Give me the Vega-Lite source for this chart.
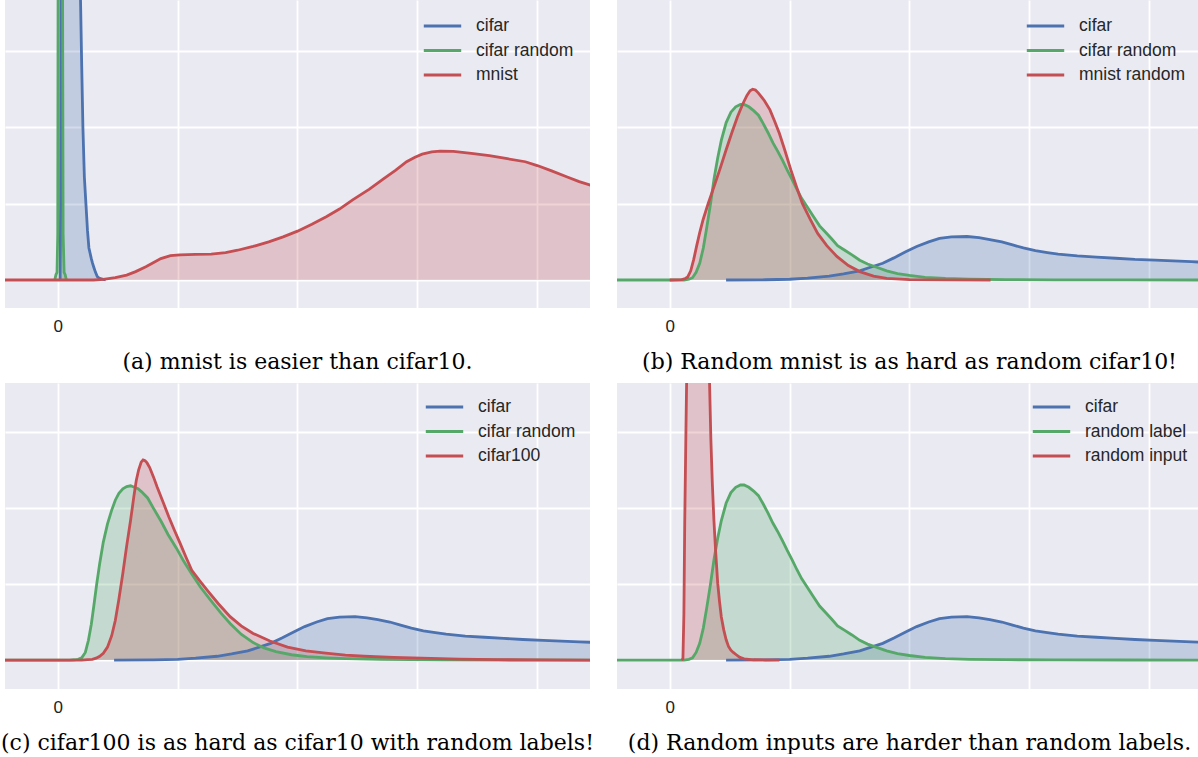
{
  "$schema": "https://vega.github.io/schema/vega-lite/v6.json",
  "padding": {"left": 1, "top": 0, "right": 0, "bottom": 0},
  "background": "white",
  "columns": 2,
  "spacing": {"row": 75, "column": 27},
  "bounds": "flush",
  "resolve": {"scale": {"x": "independent", "y": "independent", "color": "independent"}, "legend": {"color": "independent"}},
  "config": {
    "view": {"fill": "#EAEAF2", "stroke": null},
    "axis": {"grid": true, "gridColor": "white", "gridWidth": 1.8, "domain": false, "ticks": false, "title": null, "labelFont": "Liberation Sans", "labelFontSize": 17, "labelColor": "#222222", "labelPadding": 10},
    "legend": {"orient": "top-right", "offset": 14, "padding": 0, "symbolType": "stroke", "symbolSize": 1400, "symbolStrokeWidth": 3, "labelFont": "Liberation Sans", "labelFontSize": 17.5, "labelColor": "#262626", "labelOffset": 13, "clipHeight": 20, "rowPadding": 4.5, "labelLimit": 300},
    "title": {"font": "DejaVu Serif", "fontSize": 22, "fontWeight": "normal", "color": "#000000", "orient": "bottom", "anchor": "middle", "offset": 18}
  },
  "datasets": {
    "rows": [
      {"p":"a","s":"cifar","x":0.02,"y":0},{"p":"a","s":"cifar","x":0.024,"y":1},{"p":"a","s":"cifar","x":0.027,"y":4},{"p":"a","s":"cifar","x":0.03,"y":10},{"p":"a","s":"cifar","x":0.17,"y":10},{"p":"a","s":"cifar","x":0.182,"y":5},{"p":"a","s":"cifar","x":0.19,"y":3.67},{"p":"a","s":"cifar","x":0.2,"y":2.8},{"p":"a","s":"cifar","x":0.21,"y":2.0},{"p":"a","s":"cifar","x":0.222,"y":1.35},{"p":"a","s":"cifar","x":0.235,"y":1.0},{"p":"a","s":"cifar","x":0.248,"y":0.65},{"p":"a","s":"cifar","x":0.26,"y":0.42},{"p":"a","s":"cifar","x":0.27,"y":0.35},{"p":"a","s":"cifar","x":0.28,"y":0.28},{"p":"a","s":"cifar","x":0.29,"y":0.22},{"p":"a","s":"cifar","x":0.3,"y":0.17},{"p":"a","s":"cifar","x":0.315,"y":0.1},{"p":"a","s":"cifar","x":0.33,"y":0.045},{"p":"a","s":"cifar","x":0.35,"y":0.02},{"p":"a","s":"cifar","x":0.38,"y":0.008},{"p":"a","s":"cifar","x":0.4,"y":0},
      {"p":"a","s":"cifar random","x":-0.025,"y":0},{"p":"a","s":"cifar random","x":-0.015,"y":0.07},{"p":"a","s":"cifar random","x":-0.006,"y":0.1},{"p":"a","s":"cifar random","x":0.0,"y":0.6},{"p":"a","s":"cifar random","x":0.003,"y":4},{"p":"a","s":"cifar random","x":0.006,"y":10},{"p":"a","s":"cifar random","x":0.036,"y":10},{"p":"a","s":"cifar random","x":0.04,"y":4},{"p":"a","s":"cifar random","x":0.045,"y":0.6},{"p":"a","s":"cifar random","x":0.053,"y":0.1},{"p":"a","s":"cifar random","x":0.062,"y":0.07},{"p":"a","s":"cifar random","x":0.072,"y":0},
      {"p":"a","s":"mnist","x":-0.44,"y":0},{"p":"a","s":"mnist","x":0.0,"y":0},{"p":"a","s":"mnist","x":0.3,"y":0},{"p":"a","s":"mnist","x":0.38,"y":0.008},{"p":"a","s":"mnist","x":0.48,"y":0.03},{"p":"a","s":"mnist","x":0.575,"y":0.065},{"p":"a","s":"mnist","x":0.65,"y":0.11},{"p":"a","s":"mnist","x":0.735,"y":0.175},{"p":"a","s":"mnist","x":0.8,"y":0.23},{"p":"a","s":"mnist","x":0.86,"y":0.28},{"p":"a","s":"mnist","x":0.94,"y":0.32},{"p":"a","s":"mnist","x":1.02,"y":0.33},{"p":"a","s":"mnist","x":1.15,"y":0.335},{"p":"a","s":"mnist","x":1.28,"y":0.34},{"p":"a","s":"mnist","x":1.4,"y":0.36},{"p":"a","s":"mnist","x":1.5,"y":0.39},{"p":"a","s":"mnist","x":1.63,"y":0.44},{"p":"a","s":"mnist","x":1.76,"y":0.5},{"p":"a","s":"mnist","x":1.88,"y":0.565},{"p":"a","s":"mnist","x":2.0,"y":0.64},{"p":"a","s":"mnist","x":2.12,"y":0.73},{"p":"a","s":"mnist","x":2.24,"y":0.83},{"p":"a","s":"mnist","x":2.35,"y":0.93},{"p":"a","s":"mnist","x":2.46,"y":1.05},{"p":"a","s":"mnist","x":2.6,"y":1.19},{"p":"a","s":"mnist","x":2.72,"y":1.33},{"p":"a","s":"mnist","x":2.82,"y":1.44},{"p":"a","s":"mnist","x":2.91,"y":1.55},{"p":"a","s":"mnist","x":2.98,"y":1.61},{"p":"a","s":"mnist","x":3.04,"y":1.65},{"p":"a","s":"mnist","x":3.12,"y":1.68},{"p":"a","s":"mnist","x":3.19,"y":1.69},{"p":"a","s":"mnist","x":3.3,"y":1.685},{"p":"a","s":"mnist","x":3.45,"y":1.66},{"p":"a","s":"mnist","x":3.6,"y":1.63},{"p":"a","s":"mnist","x":3.75,"y":1.59},{"p":"a","s":"mnist","x":3.9,"y":1.55},{"p":"a","s":"mnist","x":4.0,"y":1.5},{"p":"a","s":"mnist","x":4.12,"y":1.43},{"p":"a","s":"mnist","x":4.25,"y":1.35},{"p":"a","s":"mnist","x":4.35,"y":1.29},{"p":"a","s":"mnist","x":4.45,"y":1.24},

      {"p":"bcd","s":"cifar","x":0.47,"y":0},{"p":"bcd","s":"cifar","x":0.8,"y":0.003},{"p":"bcd","s":"cifar","x":1.0,"y":0.01},{"p":"bcd","s":"cifar","x":1.15,"y":0.025},{"p":"bcd","s":"cifar","x":1.33,"y":0.05},{"p":"bcd","s":"cifar","x":1.45,"y":0.08},{"p":"bcd","s":"cifar","x":1.585,"y":0.12},{"p":"bcd","s":"cifar","x":1.68,"y":0.17},{"p":"bcd","s":"cifar","x":1.777,"y":0.22},{"p":"bcd","s":"cifar","x":1.87,"y":0.29},{"p":"bcd","s":"cifar","x":1.968,"y":0.37},{"p":"bcd","s":"cifar","x":2.06,"y":0.44},{"p":"bcd","s":"cifar","x":2.16,"y":0.5},{"p":"bcd","s":"cifar","x":2.25,"y":0.545},{"p":"bcd","s":"cifar","x":2.35,"y":0.565},{"p":"bcd","s":"cifar","x":2.48,"y":0.57},{"p":"bcd","s":"cifar","x":2.58,"y":0.555},{"p":"bcd","s":"cifar","x":2.67,"y":0.53},{"p":"bcd","s":"cifar","x":2.77,"y":0.5},{"p":"bcd","s":"cifar","x":2.86,"y":0.46},{"p":"bcd","s":"cifar","x":2.95,"y":0.42},{"p":"bcd","s":"cifar","x":3.05,"y":0.385},{"p":"bcd","s":"cifar","x":3.15,"y":0.36},{"p":"bcd","s":"cifar","x":3.24,"y":0.34},{"p":"bcd","s":"cifar","x":3.4,"y":0.315},{"p":"bcd","s":"cifar","x":3.56,"y":0.3},{"p":"bcd","s":"cifar","x":3.72,"y":0.285},{"p":"bcd","s":"cifar","x":3.88,"y":0.27},{"p":"bcd","s":"cifar","x":4.05,"y":0.26},{"p":"bcd","s":"cifar","x":4.2,"y":0.25},{"p":"bcd","s":"cifar","x":4.35,"y":0.24},{"p":"bcd","s":"cifar","x":4.5,"y":0.23},

      {"p":"b","s":"cifar random","x":-0.44,"y":0},{"p":"b","s":"cifar random","x":0.0,"y":0},{"p":"b","s":"cifar random","x":0.12,"y":0},{"p":"b","s":"cifar random","x":0.16,"y":0.01},{"p":"b","s":"cifar random","x":0.19,"y":0.03},{"p":"b","s":"cifar random","x":0.22,"y":0.1},{"p":"b","s":"cifar random","x":0.25,"y":0.22},{"p":"b","s":"cifar random","x":0.28,"y":0.42},{"p":"b","s":"cifar random","x":0.31,"y":0.7},{"p":"b","s":"cifar random","x":0.34,"y":1.0},{"p":"b","s":"cifar random","x":0.37,"y":1.33},{"p":"b","s":"cifar random","x":0.4,"y":1.6},{"p":"b","s":"cifar random","x":0.43,"y":1.83},{"p":"b","s":"cifar random","x":0.47,"y":2.06},{"p":"b","s":"cifar random","x":0.51,"y":2.2},{"p":"b","s":"cifar random","x":0.55,"y":2.27},{"p":"b","s":"cifar random","x":0.59,"y":2.3},{"p":"b","s":"cifar random","x":0.62,"y":2.3},{"p":"b","s":"cifar random","x":0.66,"y":2.27},{"p":"b","s":"cifar random","x":0.7,"y":2.22},{"p":"b","s":"cifar random","x":0.74,"y":2.16},{"p":"b","s":"cifar random","x":0.78,"y":2.05},{"p":"b","s":"cifar random","x":0.82,"y":1.93},{"p":"b","s":"cifar random","x":0.86,"y":1.8},{"p":"b","s":"cifar random","x":0.9,"y":1.69},{"p":"b","s":"cifar random","x":0.94,"y":1.57},{"p":"b","s":"cifar random","x":0.98,"y":1.44},{"p":"b","s":"cifar random","x":1.02,"y":1.32},{"p":"b","s":"cifar random","x":1.06,"y":1.19},{"p":"b","s":"cifar random","x":1.1,"y":1.07},{"p":"b","s":"cifar random","x":1.15,"y":0.95},{"p":"b","s":"cifar random","x":1.2,"y":0.83},{"p":"b","s":"cifar random","x":1.25,"y":0.71},{"p":"b","s":"cifar random","x":1.3,"y":0.625},{"p":"b","s":"cifar random","x":1.35,"y":0.54},{"p":"b","s":"cifar random","x":1.4,"y":0.45},{"p":"b","s":"cifar random","x":1.46,"y":0.39},{"p":"b","s":"cifar random","x":1.52,"y":0.33},{"p":"b","s":"cifar random","x":1.585,"y":0.26},{"p":"b","s":"cifar random","x":1.65,"y":0.21},{"p":"b","s":"cifar random","x":1.72,"y":0.17},{"p":"b","s":"cifar random","x":1.81,"y":0.12},{"p":"b","s":"cifar random","x":1.9,"y":0.085},{"p":"b","s":"cifar random","x":2.0,"y":0.06},{"p":"b","s":"cifar random","x":2.13,"y":0.035},{"p":"b","s":"cifar random","x":2.3,"y":0.02},{"p":"b","s":"cifar random","x":2.5,"y":0.01},{"p":"b","s":"cifar random","x":2.8,"y":0.005},{"p":"b","s":"cifar random","x":3.2,"y":0.002},{"p":"b","s":"cifar random","x":3.8,"y":0.001},{"p":"b","s":"cifar random","x":4.5,"y":0},

      {"p":"b","s":"mnist random","x":0.0,"y":0},{"p":"b","s":"mnist random","x":0.1,"y":0.005},{"p":"b","s":"mnist random","x":0.13,"y":0.02},{"p":"b","s":"mnist random","x":0.15,"y":0.04},{"p":"b","s":"mnist random","x":0.175,"y":0.12},{"p":"b","s":"mnist random","x":0.2,"y":0.27},{"p":"b","s":"mnist random","x":0.225,"y":0.45},{"p":"b","s":"mnist random","x":0.25,"y":0.62},{"p":"b","s":"mnist random","x":0.278,"y":0.79},{"p":"b","s":"mnist random","x":0.32,"y":1.0},{"p":"b","s":"mnist random","x":0.373,"y":1.24},{"p":"b","s":"mnist random","x":0.42,"y":1.46},{"p":"b","s":"mnist random","x":0.469,"y":1.7},{"p":"b","s":"mnist random","x":0.52,"y":1.94},{"p":"b","s":"mnist random","x":0.565,"y":2.14},{"p":"b","s":"mnist random","x":0.61,"y":2.31},{"p":"b","s":"mnist random","x":0.644,"y":2.42},{"p":"b","s":"mnist random","x":0.67,"y":2.48},{"p":"b","s":"mnist random","x":0.692,"y":2.5},{"p":"b","s":"mnist random","x":0.715,"y":2.49},{"p":"b","s":"mnist random","x":0.74,"y":2.45},{"p":"b","s":"mnist random","x":0.79,"y":2.35},{"p":"b","s":"mnist random","x":0.836,"y":2.23},{"p":"b","s":"mnist random","x":0.875,"y":2.08},{"p":"b","s":"mnist random","x":0.915,"y":1.92},{"p":"b","s":"mnist random","x":0.96,"y":1.7},{"p":"b","s":"mnist random","x":1.011,"y":1.44},{"p":"b","s":"mnist random","x":1.06,"y":1.21},{"p":"b","s":"mnist random","x":1.107,"y":1.0},{"p":"b","s":"mnist random","x":1.17,"y":0.8},{"p":"b","s":"mnist random","x":1.234,"y":0.61},{"p":"b","s":"mnist random","x":1.31,"y":0.45},{"p":"b","s":"mnist random","x":1.394,"y":0.31},{"p":"b","s":"mnist random","x":1.49,"y":0.19},{"p":"b","s":"mnist random","x":1.585,"y":0.11},{"p":"b","s":"mnist random","x":1.7,"y":0.05},{"p":"b","s":"mnist random","x":1.81,"y":0.02},{"p":"b","s":"mnist random","x":2.0,"y":0.006},{"p":"b","s":"mnist random","x":2.3,"y":0.002},{"p":"b","s":"mnist random","x":2.676,"y":0},

      {"p":"c","s":"cifar random","x":-0.44,"y":0},{"p":"c","s":"cifar random","x":0.1,"y":0},{"p":"c","s":"cifar random","x":0.14,"y":0.004},{"p":"c","s":"cifar random","x":0.17,"y":0.01},{"p":"c","s":"cifar random","x":0.2,"y":0.03},{"p":"c","s":"cifar random","x":0.23,"y":0.1},{"p":"c","s":"cifar random","x":0.256,"y":0.26},{"p":"c","s":"cifar random","x":0.28,"y":0.47},{"p":"c","s":"cifar random","x":0.3,"y":0.7},{"p":"c","s":"cifar random","x":0.325,"y":1.0},{"p":"c","s":"cifar random","x":0.35,"y":1.27},{"p":"c","s":"cifar random","x":0.38,"y":1.55},{"p":"c","s":"cifar random","x":0.415,"y":1.79},{"p":"c","s":"cifar random","x":0.45,"y":1.97},{"p":"c","s":"cifar random","x":0.48,"y":2.1},{"p":"c","s":"cifar random","x":0.51,"y":2.19},{"p":"c","s":"cifar random","x":0.543,"y":2.25},{"p":"c","s":"cifar random","x":0.575,"y":2.28},{"p":"c","s":"cifar random","x":0.607,"y":2.29},{"p":"c","s":"cifar random","x":0.64,"y":2.27},{"p":"c","s":"cifar random","x":0.67,"y":2.25},{"p":"c","s":"cifar random","x":0.7,"y":2.21},{"p":"c","s":"cifar random","x":0.75,"y":2.13},{"p":"c","s":"cifar random","x":0.8,"y":1.99},{"p":"c","s":"cifar random","x":0.863,"y":1.82},{"p":"c","s":"cifar random","x":0.92,"y":1.65},{"p":"c","s":"cifar random","x":0.99,"y":1.47},{"p":"c","s":"cifar random","x":1.05,"y":1.3},{"p":"c","s":"cifar random","x":1.118,"y":1.13},{"p":"c","s":"cifar random","x":1.19,"y":0.96},{"p":"c","s":"cifar random","x":1.278,"y":0.78},{"p":"c","s":"cifar random","x":1.36,"y":0.62},{"p":"c","s":"cifar random","x":1.438,"y":0.48},{"p":"c","s":"cifar random","x":1.53,"y":0.34},{"p":"c","s":"cifar random","x":1.63,"y":0.23},{"p":"c","s":"cifar random","x":1.72,"y":0.16},{"p":"c","s":"cifar random","x":1.82,"y":0.11},{"p":"c","s":"cifar random","x":1.95,"y":0.07},{"p":"c","s":"cifar random","x":2.08,"y":0.045},{"p":"c","s":"cifar random","x":2.24,"y":0.03},{"p":"c","s":"cifar random","x":2.4,"y":0.02},{"p":"c","s":"cifar random","x":2.7,"y":0.01},{"p":"c","s":"cifar random","x":3.2,"y":0.004},{"p":"c","s":"cifar random","x":3.8,"y":0.001},{"p":"c","s":"cifar random","x":4.5,"y":0},

      {"p":"c","s":"cifar100","x":-0.44,"y":0},{"p":"c","s":"cifar100","x":0.2,"y":0},{"p":"c","s":"cifar100","x":0.25,"y":0.005},{"p":"c","s":"cifar100","x":0.288,"y":0.01},{"p":"c","s":"cifar100","x":0.32,"y":0.025},{"p":"c","s":"cifar100","x":0.35,"y":0.05},{"p":"c","s":"cifar100","x":0.38,"y":0.09},{"p":"c","s":"cifar100","x":0.415,"y":0.17},{"p":"c","s":"cifar100","x":0.45,"y":0.32},{"p":"c","s":"cifar100","x":0.48,"y":0.52},{"p":"c","s":"cifar100","x":0.51,"y":0.8},{"p":"c","s":"cifar100","x":0.543,"y":1.14},{"p":"c","s":"cifar100","x":0.575,"y":1.5},{"p":"c","s":"cifar100","x":0.607,"y":1.83},{"p":"c","s":"cifar100","x":0.635,"y":2.15},{"p":"c","s":"cifar100","x":0.655,"y":2.36},{"p":"c","s":"cifar100","x":0.675,"y":2.5},{"p":"c","s":"cifar100","x":0.696,"y":2.6},{"p":"c","s":"cifar100","x":0.712,"y":2.63},{"p":"c","s":"cifar100","x":0.728,"y":2.62},{"p":"c","s":"cifar100","x":0.745,"y":2.59},{"p":"c","s":"cifar100","x":0.767,"y":2.53},{"p":"c","s":"cifar100","x":0.8,"y":2.4},{"p":"c","s":"cifar100","x":0.83,"y":2.27},{"p":"c","s":"cifar100","x":0.88,"y":2.07},{"p":"c","s":"cifar100","x":0.927,"y":1.88},{"p":"c","s":"cifar100","x":0.975,"y":1.7},{"p":"c","s":"cifar100","x":1.022,"y":1.53},{"p":"c","s":"cifar100","x":1.07,"y":1.35},{"p":"c","s":"cifar100","x":1.118,"y":1.18},{"p":"c","s":"cifar100","x":1.18,"y":1.05},{"p":"c","s":"cifar100","x":1.246,"y":0.92},{"p":"c","s":"cifar100","x":1.34,"y":0.74},{"p":"c","s":"cifar100","x":1.438,"y":0.57},{"p":"c","s":"cifar100","x":1.53,"y":0.45},{"p":"c","s":"cifar100","x":1.63,"y":0.35},{"p":"c","s":"cifar100","x":1.77,"y":0.25},{"p":"c","s":"cifar100","x":1.917,"y":0.17},{"p":"c","s":"cifar100","x":2.07,"y":0.12},{"p":"c","s":"cifar100","x":2.236,"y":0.09},{"p":"c","s":"cifar100","x":2.4,"y":0.065},{"p":"c","s":"cifar100","x":2.556,"y":0.05},{"p":"c","s":"cifar100","x":2.8,"y":0.035},{"p":"c","s":"cifar100","x":3.035,"y":0.025},{"p":"c","s":"cifar100","x":3.35,"y":0.012},{"p":"c","s":"cifar100","x":3.67,"y":0.005},{"p":"c","s":"cifar100","x":4.0,"y":0.002},{"p":"c","s":"cifar100","x":4.5,"y":0},

      {"p":"d","s":"random label","x":-0.44,"y":0},{"p":"d","s":"random label","x":0.0,"y":0},{"p":"d","s":"random label","x":0.12,"y":0},{"p":"d","s":"random label","x":0.16,"y":0.01},{"p":"d","s":"random label","x":0.19,"y":0.03},{"p":"d","s":"random label","x":0.22,"y":0.1},{"p":"d","s":"random label","x":0.25,"y":0.22},{"p":"d","s":"random label","x":0.28,"y":0.42},{"p":"d","s":"random label","x":0.31,"y":0.7},{"p":"d","s":"random label","x":0.34,"y":1.0},{"p":"d","s":"random label","x":0.37,"y":1.33},{"p":"d","s":"random label","x":0.4,"y":1.6},{"p":"d","s":"random label","x":0.43,"y":1.83},{"p":"d","s":"random label","x":0.47,"y":2.06},{"p":"d","s":"random label","x":0.51,"y":2.2},{"p":"d","s":"random label","x":0.55,"y":2.27},{"p":"d","s":"random label","x":0.59,"y":2.3},{"p":"d","s":"random label","x":0.62,"y":2.3},{"p":"d","s":"random label","x":0.66,"y":2.27},{"p":"d","s":"random label","x":0.7,"y":2.22},{"p":"d","s":"random label","x":0.74,"y":2.16},{"p":"d","s":"random label","x":0.78,"y":2.05},{"p":"d","s":"random label","x":0.82,"y":1.93},{"p":"d","s":"random label","x":0.86,"y":1.8},{"p":"d","s":"random label","x":0.9,"y":1.69},{"p":"d","s":"random label","x":0.94,"y":1.57},{"p":"d","s":"random label","x":0.98,"y":1.44},{"p":"d","s":"random label","x":1.02,"y":1.32},{"p":"d","s":"random label","x":1.06,"y":1.19},{"p":"d","s":"random label","x":1.1,"y":1.07},{"p":"d","s":"random label","x":1.15,"y":0.95},{"p":"d","s":"random label","x":1.2,"y":0.83},{"p":"d","s":"random label","x":1.25,"y":0.71},{"p":"d","s":"random label","x":1.3,"y":0.625},{"p":"d","s":"random label","x":1.35,"y":0.54},{"p":"d","s":"random label","x":1.4,"y":0.45},{"p":"d","s":"random label","x":1.46,"y":0.39},{"p":"d","s":"random label","x":1.52,"y":0.33},{"p":"d","s":"random label","x":1.585,"y":0.26},{"p":"d","s":"random label","x":1.65,"y":0.21},{"p":"d","s":"random label","x":1.72,"y":0.17},{"p":"d","s":"random label","x":1.81,"y":0.12},{"p":"d","s":"random label","x":1.9,"y":0.085},{"p":"d","s":"random label","x":2.0,"y":0.06},{"p":"d","s":"random label","x":2.13,"y":0.035},{"p":"d","s":"random label","x":2.3,"y":0.02},{"p":"d","s":"random label","x":2.5,"y":0.01},{"p":"d","s":"random label","x":2.8,"y":0.005},{"p":"d","s":"random label","x":3.2,"y":0.002},{"p":"d","s":"random label","x":3.8,"y":0.001},{"p":"d","s":"random label","x":4.5,"y":0},

      {"p":"d","s":"random input","x":0.1,"y":0},{"p":"d","s":"random input","x":0.11,"y":0.02},{"p":"d","s":"random input","x":0.118,"y":0.6},{"p":"d","s":"random input","x":0.125,"y":1.8},{"p":"d","s":"random input","x":0.135,"y":3.0},{"p":"d","s":"random input","x":0.143,"y":3.9},{"p":"d","s":"random input","x":0.16,"y":5.5},{"p":"d","s":"random input","x":0.2,"y":6.5},{"p":"d","s":"random input","x":0.28,"y":6.5},{"p":"d","s":"random input","x":0.3,"y":6.0},{"p":"d","s":"random input","x":0.325,"y":4.5},{"p":"d","s":"random input","x":0.332,"y":3.64},{"p":"d","s":"random input","x":0.343,"y":2.9},{"p":"d","s":"random input","x":0.355,"y":2.33},{"p":"d","s":"random input","x":0.368,"y":1.85},{"p":"d","s":"random input","x":0.382,"y":1.45},{"p":"d","s":"random input","x":0.4,"y":1.01},{"p":"d","s":"random input","x":0.415,"y":0.77},{"p":"d","s":"random input","x":0.43,"y":0.57},{"p":"d","s":"random input","x":0.45,"y":0.4},{"p":"d","s":"random input","x":0.47,"y":0.27},{"p":"d","s":"random input","x":0.49,"y":0.18},{"p":"d","s":"random input","x":0.51,"y":0.13},{"p":"d","s":"random input","x":0.53,"y":0.1},{"p":"d","s":"random input","x":0.555,"y":0.07},{"p":"d","s":"random input","x":0.585,"y":0.035},{"p":"d","s":"random input","x":0.62,"y":0.015},{"p":"d","s":"random input","x":0.7,"y":0.004},{"p":"d","s":"random input","x":0.8,"y":0.001},{"p":"d","s":"random input","x":0.915,"y":0}
    ]
  },
  "concat": [
    {
      "width": 585, "height": 308,
      "title": {"text": "(a) mnist is easier than cifar10."},
      "data": {"name": "rows"},
      "transform": [{"filter": "indexof(datum.p, 'a') >= 0"}],
      "encoding": {
        "x": {"field": "x", "type": "quantitative", "scale": {"domain": [-0.44, 4.44], "nice": false, "zero": false}, "axis": {"values": [0,1,2,3,4], "labelExpr": "datum.value == 0 ? '0' : ''"}},
        "y": {"field": "y", "type": "quantitative", "scale": {"domain": [-0.367, 3.67], "nice": false, "zero": false}, "axis": {"values": [0,1,2,3], "labels": false}},
        "color": {"field": "s", "type": "nominal", "scale": {"domain": ["cifar", "cifar random", "mnist"], "range": ["#4C72B0", "#55A868", "#C44E52"]}, "legend": {"title": null, "offset": 16}}
      },
      "layer": [
        {"mark": {"type": "area", "fillOpacity": 0.25, "clip": true}, "encoding": {"y2": {"datum": 0}}},
        {"mark": {"type": "line", "strokeWidth": 2.8, "clip": true}}
      ]
    },
    {
      "width": 585, "height": 308,
      "title": {"text": "(b) Random mnist is as hard as random cifar10!"},
      "data": {"name": "rows"},
      "transform": [{"filter": "indexof(datum.p, 'b') >= 0"}],
      "encoding": {
        "x": {"field": "x", "type": "quantitative", "scale": {"domain": [-0.44, 4.44], "nice": false, "zero": false}, "axis": {"values": [0,1,2,3,4], "labelExpr": "datum.value == 0 ? '0' : ''"}},
        "y": {"field": "y", "type": "quantitative", "scale": {"domain": [-0.367, 3.67], "nice": false, "zero": false}, "axis": {"values": [0,1,2,3], "labels": false}},
        "color": {"field": "s", "type": "nominal", "scale": {"domain": ["cifar", "cifar random", "mnist random"], "range": ["#4C72B0", "#55A868", "#C44E52"]}, "legend": {"title": null, "offset": 16}}
      },
      "layer": [
        {"mark": {"type": "area", "fillOpacity": 0.25, "clip": true}, "encoding": {"y2": {"datum": 0}}},
        {"mark": {"type": "line", "strokeWidth": 2.8, "clip": true}}
      ]
    },
    {
      "width": 585, "height": 306,
      "title": {"text": "(c) cifar100 is as hard as cifar10 with random labels!"},
      "data": {"name": "rows"},
      "transform": [{"filter": "indexof(datum.p, 'c') >= 0"}],
      "encoding": {
        "x": {"field": "x", "type": "quantitative", "scale": {"domain": [-0.44, 4.44], "nice": false, "zero": false}, "axis": {"values": [0,1,2,3,4], "labelExpr": "datum.value == 0 ? '0' : ''"}},
        "y": {"field": "y", "type": "quantitative", "scale": {"domain": [-0.38, 3.64], "nice": false, "zero": false}, "axis": {"values": [0,1,2,3], "labels": false}},
        "color": {"field": "s", "type": "nominal", "scale": {"domain": ["cifar", "cifar random", "cifar100"], "range": ["#4C72B0", "#55A868", "#C44E52"]}, "legend": {"title": null}}
      },
      "layer": [
        {"mark": {"type": "area", "fillOpacity": 0.25, "clip": true}, "encoding": {"y2": {"datum": 0}}},
        {"mark": {"type": "line", "strokeWidth": 2.8, "clip": true}}
      ]
    },
    {
      "width": 585, "height": 306,
      "title": {"text": "(d) Random inputs are harder than random labels."},
      "data": {"name": "rows"},
      "transform": [{"filter": "indexof(datum.p, 'd') >= 0"}],
      "encoding": {
        "x": {"field": "x", "type": "quantitative", "scale": {"domain": [-0.44, 4.44], "nice": false, "zero": false}, "axis": {"values": [0,1,2,3,4], "labelExpr": "datum.value == 0 ? '0' : ''"}},
        "y": {"field": "y", "type": "quantitative", "scale": {"domain": [-0.38, 3.64], "nice": false, "zero": false}, "axis": {"values": [0,1,2,3], "labels": false}},
        "color": {"field": "s", "type": "nominal", "scale": {"domain": ["cifar", "random label", "random input"], "range": ["#4C72B0", "#55A868", "#C44E52"]}, "legend": {"title": null}}
      },
      "layer": [
        {"mark": {"type": "area", "fillOpacity": 0.25, "clip": true}, "encoding": {"y2": {"datum": 0}}},
        {"mark": {"type": "line", "strokeWidth": 2.8, "clip": true}}
      ]
    }
  ]
}
